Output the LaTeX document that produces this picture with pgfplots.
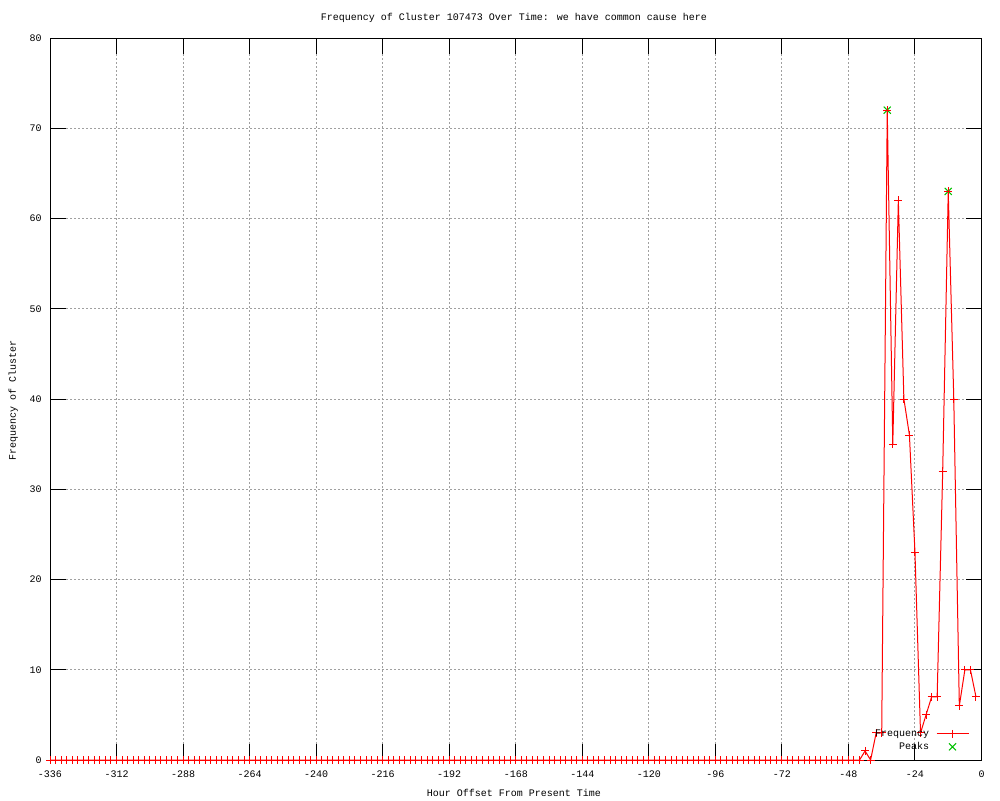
\documentclass[border=0pt]{standalone}
\usepackage{pgfplots}
\pgfplotsset{compat=1.18}
\usepackage{fontspec}
\setmainfont{Liberation Mono}
\setmonofont{Liberation Mono}
\newcommand\gfont{\fontsize{5pt}{6pt}\selectfont}
\definecolor{gpgreen}{RGB}{0,192,0}
\definecolor{gpgrid}{RGB}{160,160,160}
\begin{document}
\begin{tikzpicture}
\useasboundingbox (0,0) rectangle (500pt,400pt);
\begin{axis}[
  at={(25pt,20pt)}, anchor=south west,
  scale only axis, width=465.75pt, height=361pt,
  xmin=-336, xmax=0, ymin=0, ymax=80,
  xtick={-336,-312,...,0}, ytick={0,10,...,80},
  tick align=inside, major tick length=8pt,
  every tick/.style={black, line width=0.5pt},
  axis line style={black, line width=0.5pt},
  grid=major,
  major grid style={gpgrid, line width=0.5pt, dash pattern=on 1pt off 1pt},
  /pgf/number format/assume math mode=true,
  every tick label/.append style={font=\gfont},
  xticklabel style={anchor=north, inner sep=0pt, yshift=-5pt, text height=3.6pt, text depth=0pt},
  yticklabel style={anchor=east, inner sep=0pt, xshift=-4pt},
  clip=false,
  reverse legend,
  legend plot pos=right,
  legend cell align=right,
  legend style={at={(0.9866,0.0429)}, anchor=north east, draw=none, fill=none,
    inner sep=0pt, outer sep=0pt, row sep=1.7pt, column sep=3.5pt, font=\gfont,
    nodes={inner sep=0pt, text height=3.6pt, text depth=1.2pt}},
  legend image code/.code={\draw[#1, mark repeat=2, mark phase=2] plot coordinates {(0pt,0pt)(8pt,0pt)(16pt,0pt)};},
]
\addplot[gpgreen, only marks, mark=x, mark size=2.5pt, mark options={line width=0.5pt}] coordinates {
(-34,72)(-12,63)
};
\addlegendentry{Peaks}
\addplot[red, line width=0.5pt, mark=+, mark size=2pt, mark options={line width=0.5pt}] coordinates {
(-336,0)(-334,0)(-332,0)(-330,0)(-328,0)(-326,0)(-324,0)(-322,0)(-320,0)(-318,0)
(-316,0)(-314,0)(-312,0)(-310,0)(-308,0)(-306,0)(-304,0)(-302,0)(-300,0)(-298,0)
(-296,0)(-294,0)(-292,0)(-290,0)(-288,0)(-286,0)(-284,0)(-282,0)(-280,0)(-278,0)
(-276,0)(-274,0)(-272,0)(-270,0)(-268,0)(-266,0)(-264,0)(-262,0)(-260,0)(-258,0)
(-256,0)(-254,0)(-252,0)(-250,0)(-248,0)(-246,0)(-244,0)(-242,0)(-240,0)(-238,0)
(-236,0)(-234,0)(-232,0)(-230,0)(-228,0)(-226,0)(-224,0)(-222,0)(-220,0)(-218,0)
(-216,0)(-214,0)(-212,0)(-210,0)(-208,0)(-206,0)(-204,0)(-202,0)(-200,0)(-198,0)
(-196,0)(-194,0)(-192,0)(-190,0)(-188,0)(-186,0)(-184,0)(-182,0)(-180,0)(-178,0)
(-176,0)(-174,0)(-172,0)(-170,0)(-168,0)(-166,0)(-164,0)(-162,0)(-160,0)(-158,0)
(-156,0)(-154,0)(-152,0)(-150,0)(-148,0)(-146,0)(-144,0)(-142,0)(-140,0)(-138,0)
(-136,0)(-134,0)(-132,0)(-130,0)(-128,0)(-126,0)(-124,0)(-122,0)(-120,0)(-118,0)
(-116,0)(-114,0)(-112,0)(-110,0)(-108,0)(-106,0)(-104,0)(-102,0)(-100,0)(-98,0)
(-96,0)(-94,0)(-92,0)(-90,0)(-88,0)(-86,0)(-84,0)(-82,0)(-80,0)(-78,0)
(-76,0)(-74,0)(-72,0)(-70,0)(-68,0)(-66,0)(-64,0)(-62,0)(-60,0)(-58,0)
(-56,0)(-54,0)(-52,0)(-50,0)(-48,0)(-46,0)(-44,0)
(-42,1)(-40,0)(-38,3)(-36,3)(-34,72)(-32,35)(-30,62)(-28,40)(-26,36)(-24,23)
(-22,3)(-20,5)(-18,7)(-16,7)(-14,32)(-12,63)(-10,40)(-8,6)(-6,10)(-4,10)(-2,7)
};
\addlegendentry{Frequency}
\end{axis}
\node[font=\gfont, inner sep=0pt] at (257pt,391pt) {Frequency of Cluster 107473 Over Time: we have common cause here};
\node[font=\gfont, inner sep=0pt] at (257pt,3.5pt) {Hour Offset From Present Time};
\node[font=\gfont, inner sep=0pt, rotate=90] at (6.7pt,200pt) {Frequency of Cluster};
\end{tikzpicture}
\end{document}
